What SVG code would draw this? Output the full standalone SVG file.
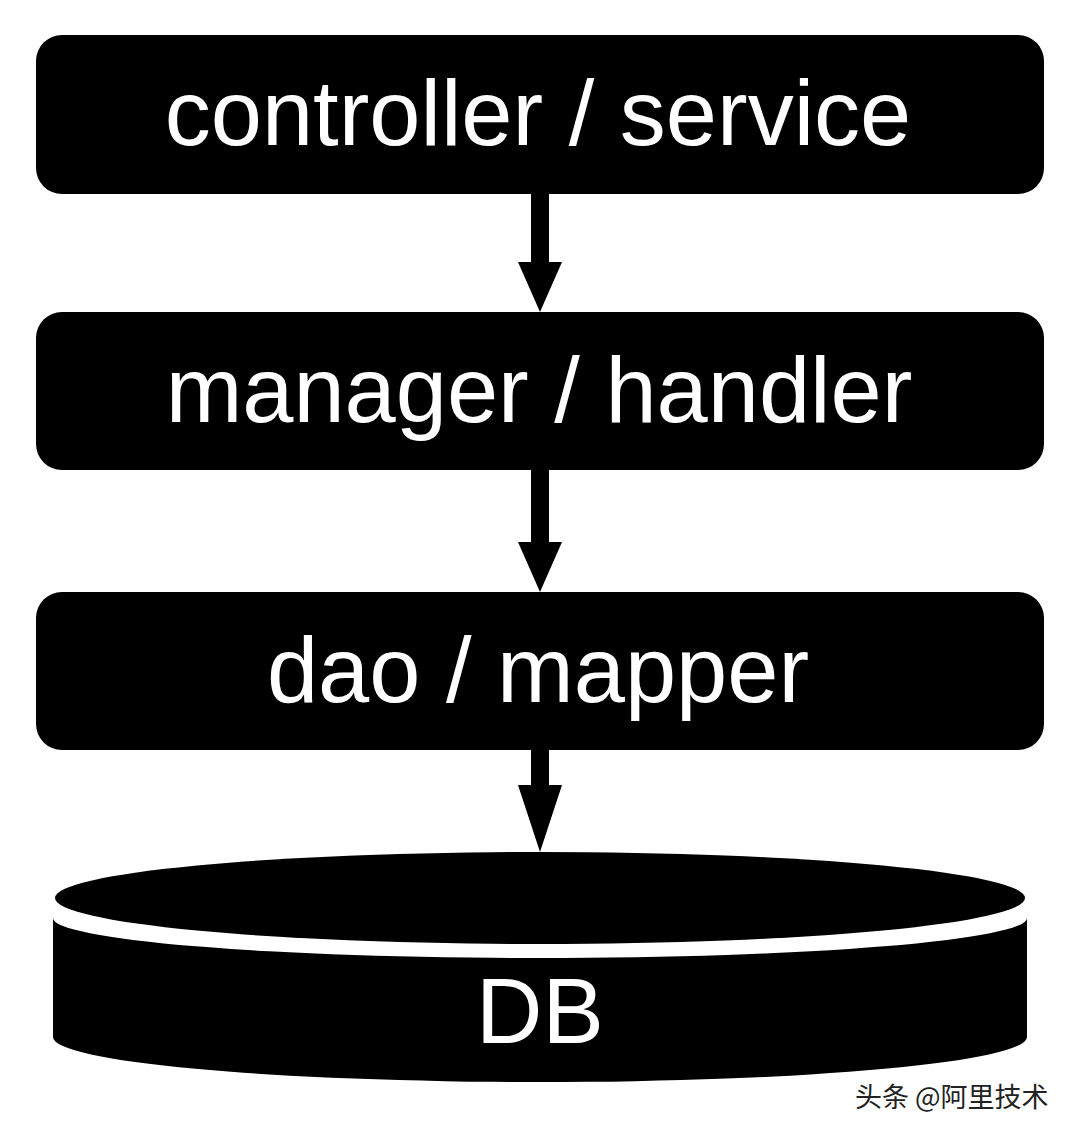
<svg xmlns="http://www.w3.org/2000/svg" width="1080" height="1137" viewBox="0 0 1080 1137">
<style>
.box{fill:#000}
.lbl{fill:#fff;font-family:"Liberation Sans",Arial,Helvetica,sans-serif;font-size:92px;text-anchor:middle}
.shaft{fill:#000}
.wm{fill:#222;font-family:"Noto Sans CJK SC","Liberation Sans",sans-serif;font-size:27px;stroke:#fff;stroke-width:0.6px;paint-order:stroke}
</style>
<rect width="1080" height="1137" fill="#fff"/>
<g id="connectors">
<path class="shaft" d="M531,194 H549 V262 H562 L540,312 L518,262 H531 Z"/>
<path class="shaft" d="M531,470 H549 V542 H562 L540,592 L518,542 H531 Z"/>
<path class="shaft" d="M531,750 H549 V785 H562 L540,852 L518,785 H531 Z"/>
</g>
<g id="node-controller">
<rect class="box" x="36" y="35" width="1008" height="159" rx="26"/>
<text class="lbl" x="538" y="145">controller / service</text>
</g>
<g id="node-manager">
<rect class="box" x="36" y="312" width="1008" height="158" rx="26"/>
<text class="lbl" x="539" y="422">manager / handler</text>
</g>
<g id="node-dao">
<rect class="box" x="36" y="592" width="1008" height="158" rx="26"/>
<text class="lbl" x="538" y="702">dao / mapper</text>
</g>
<g id="node-db">
<path fill="#000" d="M53,918 A487,40 0 0 0 1027,918 V1037 A487,45 0 0 1 53,1037 Z"/>
<ellipse cx="540" cy="898" rx="485" ry="46" fill="#000"/>
<text class="lbl" x="540" y="1043">DB</text>
</g>
<text class="wm" x="855" y="1107">头条 @阿里技术</text>
</svg>
